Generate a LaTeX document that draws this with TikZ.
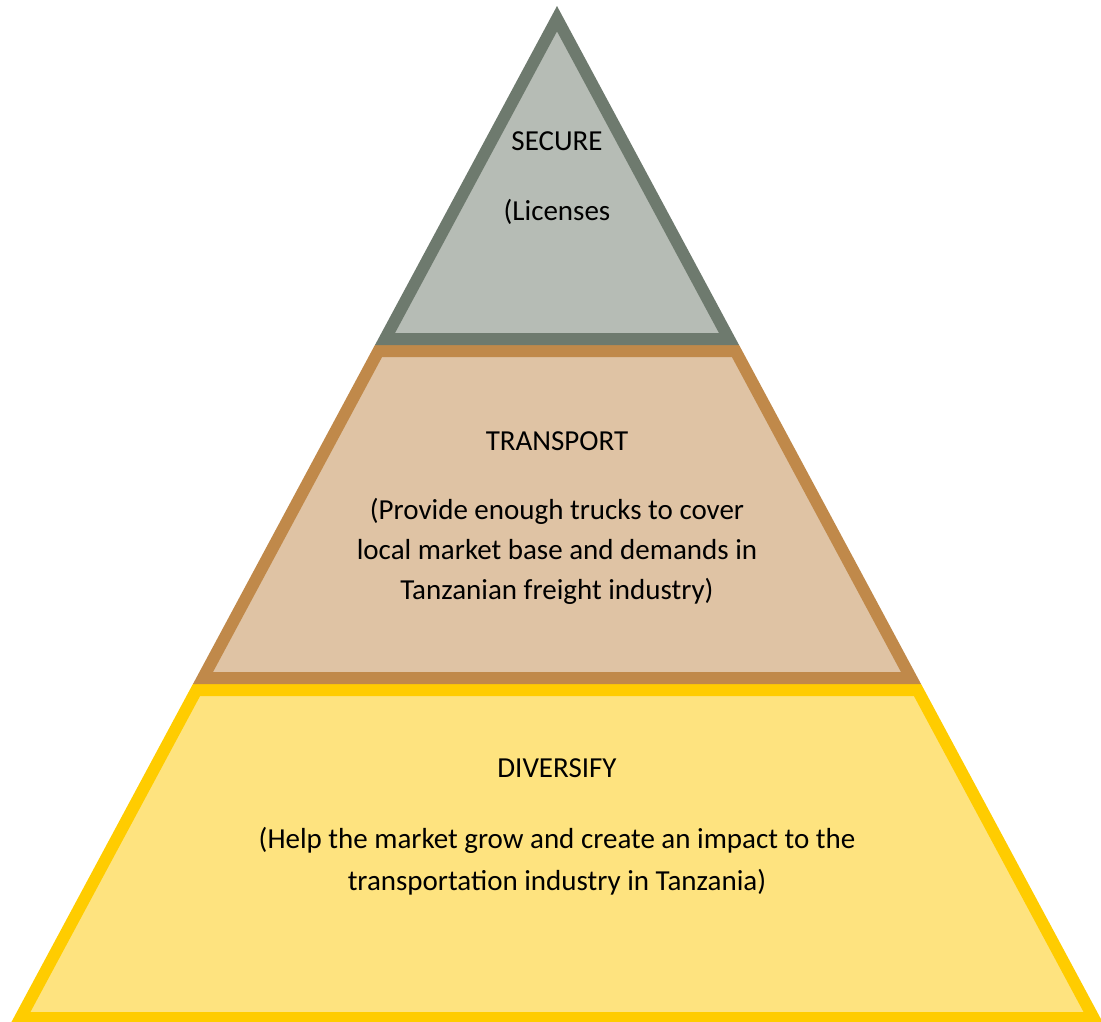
\documentclass[tikz,border=0pt]{standalone}
\usepackage{fontspec}
\setmainfont{Carlito}
\definecolor{greyline}{RGB}{110,122,110}
\definecolor{greyfill}{RGB}{182,188,181}
\definecolor{orangeline}{RGB}{192,137,74}
\definecolor{orangefill}{RGB}{223,195,164}
\definecolor{yellowline}{RGB}{255,204,0}
\definecolor{yellowfill}{RGB}{254,227,127}
\tikzset{
  tier/.style={line width=12pt, line join=miter, miter limit=20},
  label/.style={anchor=base, inner sep=0pt, font=\fontsize{29}{40}\selectfont, align=center},
}
\begin{document}
\begin{tikzpicture}[x=1pt,y=-1pt]
\useasboundingbox (0,0) rectangle (1101,1021);
\clip (0,0) rectangle (1101,1021);
% bottom tier
\draw[tier, draw=yellowline, fill=yellowfill]
  (196.5,690) -- (917.5,690) -- (1093.6,1018) -- (20.4,1018) -- cycle;
% middle tier
\draw[tier, draw=orangeline, fill=orangefill]
  (378.5,351) -- (735.5,351) -- (911,678) -- (203,678) -- cycle;
% top tier
\draw[tier, draw=greyline, fill=greyfill]
  (557,18.7) -- (729,339) -- (385,339) -- cycle;
% texts
\node[label] (secure) at (557,150) {SECURE};
\node[label] (licenses) at (557,220) {(Licenses};
\node[label] (transport) at (557,450) {TRANSPORT};
\node[label] (transporttext) at (557,599) {(Provide enough trucks to cover\\local market base and demands in\\Tanzanian freight industry)};
\node[label] (diversify) at (557,777) {DIVERSIFY};
\node[label, font=\fontsize{29}{42}\selectfont] (diversifytext) at (557,890) {(Help the market grow and create an impact to the\\transportation industry in Tanzania)};
\end{tikzpicture}
\end{document}
